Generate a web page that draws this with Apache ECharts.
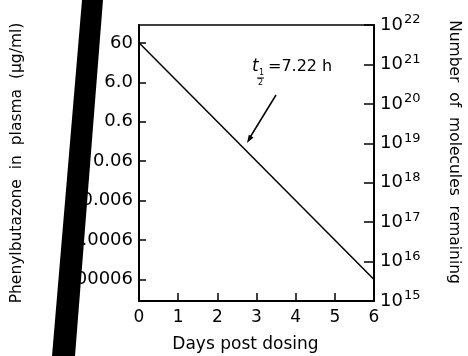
<!DOCTYPE html>
<html>
<head>
<meta charset="utf-8">
<script src="https://cdn.jsdelivr.net/npm/echarts@6/dist/echarts.min.js"></script>
<style>
  html, body { margin: 0; padding: 0; background: #fff; }
  #chart { width: 468px; height: 356px; }
</style>
</head>
<body>
<div id="chart"></div>
<script>
// data
const days = [0, 6];
const plasma = [60, 0.00006];          // ug/ml, straight on log scale (t1/2 = 7.22 h)
const dayTicks = [0, 1, 2, 3, 4, 5, 6];
const leftTicks = [0.00006, 0.0006, 0.006, 0.06, 0.6, 6, 60];
const leftLabels = ['0.00006', '0.0006', '0.006', '0.06', '0.6', '6.0', '60'];
const rightExps = [15, 16, 17, 18, 19, 20, 21, 22];
const rightTicks = rightExps.map(e => Math.pow(10, e));

const font = 'DejaVu Sans';
const chart = echarts.init(document.getElementById('chart'), null, {renderer: 'canvas'});

// pick label text for a tick value
function leftLabel(v) {
    let best = 0;
    leftTicks.forEach((t, i) => {
        if (Math.abs(Math.log10(t) - Math.log10(v)) < Math.abs(Math.log10(leftTicks[best]) - Math.log10(v))) best = i;
    });
    return leftLabels[best];
}

const option = {
    animation: false,
    backgroundColor: '#fff',
    grid: {
        left: 139, right: 94, top: 25, bottom: 55,
        outerBoundsMode: 'none', containLabel: false,
        show: true, borderColor: '#000', borderWidth: 1.5, backgroundColor: 'transparent'
    },
    xAxis: {
        type: 'value', min: 0, max: 6, interval: 1,
        name: 'Days post dosing', nameLocation: 'middle', nameGap: 35,
        nameTextStyle: {fontFamily: font, fontSize: 17, color: '#000', padding: [0, 22, 0, 0]},
        axisLine: {lineStyle: {color: '#000', width: 2}},
        axisTick: {inside: true, length: 8, lineStyle: {color: '#000', width: 1.5}},
        axisLabel: {fontFamily: font, fontSize: 17, color: '#000', margin: 8,
            customValues: dayTicks, formatter: v => String(v)},
        splitLine: {show: false}
    },
    yAxis: [
        {
            type: 'log', min: 1.7e-5, max: 170, position: 'left',
            name: 'Phenylbutazone  in  plasma  (\u00b5g/ml)', nameLocation: 'middle', nameGap: 114,
            nameMoveOverlap: false,
            nameTextStyle: {fontFamily: font, fontSize: 15.5, color: '#000'},
            axisLine: {show: true, lineStyle: {color: '#000', width: 2}},
            axisTick: {inside: true, length: 7, customValues: leftTicks, lineStyle: {color: '#000', width: 1.5}},
            axisLabel: {fontFamily: font, fontSize: 18, color: '#000', margin: 6,
                customValues: leftTicks, formatter: leftLabel},
            splitLine: {show: false}
        },
        {
            type: 'log', min: 1e15, max: 1e22, position: 'right',
            name: 'Number  of  molecules  remaining', nameLocation: 'middle', nameGap: 72, nameRotate: -90,
            nameMoveOverlap: false,
            nameTextStyle: {fontFamily: font, fontSize: 15.5, color: '#000', padding: [0, 22, 0, 0]},
            axisLine: {show: true, lineStyle: {color: '#000', width: 2}},
            axisTick: {inside: true, length: 10, customValues: rightTicks, lineStyle: {color: '#000', width: 1.5}},
            axisLabel: {
                fontFamily: font, fontSize: 18, color: '#000', margin: 6,
                customValues: rightTicks,
                formatter: v => '10{s|' + Math.round(Math.log10(v)) + '}',
                rich: {s: {fontFamily: font, fontSize: 13, color: '#000', verticalAlign: 'top', padding: [0, 0, 10, 1]}}
            },
            splitLine: {show: false}
        }
    ],
    series: [{
        type: 'line',
        yAxisIndex: 0,
        data: days.map((d, i) => [d, plasma[i]]),
        symbol: 'none',
        lineStyle: {color: '#000', width: 1.5}
    }],
    graphic: [
        // half-life note
        {type: 'text', left: 252, top: 58, style: {text: 't', font: 'italic 17px ' + font, fill: '#000'}},
        {type: 'text', left: 259, top: 69, style: {text: '1', font: '8px ' + font, fill: '#000'}},
        {type: 'line', shape: {x1: 257, y1: 78, x2: 264, y2: 78}, style: {stroke: '#000', lineWidth: 1}},
        {type: 'text', left: 258, top: 79, style: {text: '2', font: '8px ' + font, fill: '#000'}},
        {type: 'text', left: 268, top: 59, style: {text: '=7.22 h', font: '16px ' + font, fill: '#000'}},
        {type: 'line', shape: {x1: 276, y1: 95, x2: 249, y2: 139}, style: {stroke: '#000', lineWidth: 1.5}},
        {type: 'polygon', shape: {points: [[247, 143], [253.5, 137.6], [248.8, 134.7]]}, style: {fill: '#000'}},
        // dark scan streak over the left labels
        {type: 'polygon', z: 100, shape: {points: [[82, 0], [103, 0], [75, 356], [52, 356]]}, style: {fill: '#000'}}
    ]
};

chart.setOption(option);
</script>
</body>
</html>
